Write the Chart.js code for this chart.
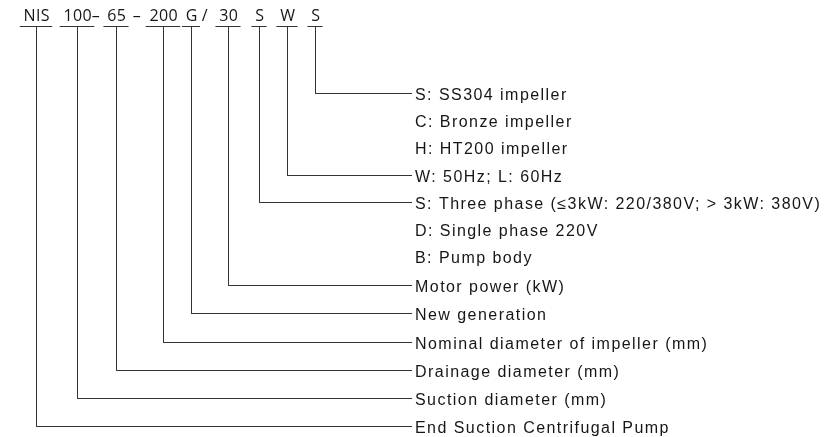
<!DOCTYPE html>
<html>
<head>
<meta charset="utf-8">
<script src="https://cdn.jsdelivr.net/npm/chart.js@4.4.1/dist/chart.umd.min.js"></script>
<style>
  html, body { margin: 0; padding: 0; background: #fff; }
  #wrap { width: 827px; height: 437px; }
</style>
</head>
<body>
<div id="wrap"><canvas id="code" width="827" height="437"></canvas></div>
<script>
// model code parts, left to right
const codes = ['NIS', '100', '65', '200', 'G', '30', 'S', 'W', 'S'];
// x position (px units) of each part's stem
const codeX = [36, 77, 116, 163, 191, 228, 259, 287, 315];
// which description row each part points at
const codeRow = [12, 11, 10, 9, 8, 7, 4, 3, 0];

// separators printed between the parts
const sepText = ['\u2013', '\u2013', '/'];
const sepX = [96, 137, 205];

// description rows, top to bottom
const descriptions = [
    'S: SS304 impeller',
    'C: Bronze impeller',
    'H: HT200 impeller',
    'W: 50Hz; L: 60Hz',
    'S: Three phase (\u22643kW: 220/380V; > 3kW: 380V)',
    'D: Single phase 220V',
    'B: Pump body',
    'Motor power (kW)',
    'New generation',
    'Nominal diameter of impeller (mm)',
    'Drainage diameter (mm)',
    'Suction diameter (mm)',
    'End Suction Centrifugal Pump'
];
const rowY = [93, 120, 147, 175, 202, 229, 256, 285, 313, 342, 370, 398, 426];

const headerY = 21;      // baseline of the code text
const barY = 26;         // underline / top of stems
const lineEndX = 412;    // where leaders stop
const textX = 415;       // where descriptions start

const LINE = '#333333';
const INK = '#161616';

// leader line for every code part: stem down, then right to its row
const datasets = codes.map((c, i) => ({
    label: c,
    data: [
        { x: codeX[i] + 0.5, y: barY },
        { x: codeX[i] + 0.5, y: rowY[codeRow[i]] + 0.5 },
        { x: lineEndX, y: rowY[codeRow[i]] + 0.5 }
    ],
    showLine: true,
    borderColor: LINE,
    borderWidth: 1,
    pointRadius: 0,
    fill: false,
    tension: 0
}));

const labelPlugin = {
    id: 'codeLabels',
    afterDatasetsDraw(chart) {
        const { ctx, scales: { x, y } } = chart;
        ctx.save();
        ctx.fillStyle = INK;
        ctx.strokeStyle = LINE;
        ctx.lineWidth = 1;

        // header codes with their underline
        ctx.font = '16px "Open Sans", sans-serif';
        ctx.letterSpacing = '0.4px';
        ctx.textAlign = 'center';
        ctx.textBaseline = 'alphabetic';
        codes.forEach((c, i) => {
            const px = x.getPixelForValue(codeX[i]);
            const w = ctx.measureText(c).width;
            ctx.fillText(c, px + 0.8, y.getPixelForValue(headerY));
            const by = Math.round(y.getPixelForValue(barY)) + 0.5;
            ctx.beginPath();
            ctx.moveTo(px - w / 2 - 3, by);
            ctx.lineTo(px + w / 2 + 3, by);
            ctx.stroke();
        });
        sepText.forEach((s, i) => {
            ctx.fillText(s, x.getPixelForValue(sepX[i]), y.getPixelForValue(headerY));
        });

        // description rows
        ctx.font = '16px "Liberation Sans", Arial, sans-serif';
        ctx.letterSpacing = '1.45px';
        ctx.textAlign = 'left';
        descriptions.forEach((d, i) => {
            ctx.fillText(d, x.getPixelForValue(textX), y.getPixelForValue(rowY[i] + 7));
        });
        ctx.restore();
    }
};

new Chart(document.getElementById('code'), {
    type: 'scatter',
    data: { datasets },
    options: {
        responsive: false,
        animation: false,
        devicePixelRatio: 1,
        layout: { padding: 0 },
        plugins: {
            legend: { display: false },
            tooltip: { enabled: false },
            title: { display: false }
        },
        events: [],
        scales: {
            x: { type: 'linear', min: 0, max: 827, display: false },
            y: { type: 'linear', min: 0, max: 437, reverse: true, display: false }
        }
    },
    plugins: [labelPlugin]
});
</script>
</body>
</html>
